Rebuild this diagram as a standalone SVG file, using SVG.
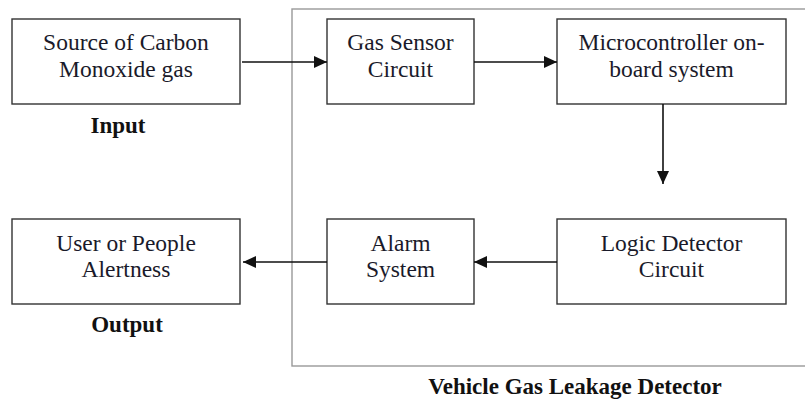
<svg xmlns="http://www.w3.org/2000/svg" width="805" height="403" viewBox="0 0 805 403">
<style>
.box{fill:#fff;stroke:#333;stroke-width:1.4}
.t{font-family:"Liberation Serif","DejaVu Serif","Times New Roman",serif;font-size:23.5px;fill:#1a1a2a;text-anchor:middle}
.b{font-family:"Liberation Serif","DejaVu Serif","Times New Roman",serif;font-size:23px;font-weight:bold;fill:#111;text-anchor:middle}
.c{stroke:#111;stroke-width:1.6;fill:none}
</style>
<defs>
<marker id="ah" markerWidth="13" markerHeight="12" refX="13" refY="6" orient="auto" markerUnits="userSpaceOnUse">
<path d="M0,0 L13,6 L0,12 Z" fill="#111"/>
</marker>
</defs>
<rect id="system" x="292" y="9" width="530" height="357" fill="none" stroke="#999" stroke-width="1.4"/>
<g id="source"><rect class="box" x="12" y="19" width="228" height="85"/><text class="t" x="126" y="50">Source of Carbon</text><text class="t" x="126" y="77">Monoxide gas</text></g>
<g id="sensor"><rect class="box" x="327" y="19" width="147" height="85"/><text class="t" x="400.5" y="50">Gas Sensor</text><text class="t" x="400.5" y="77">Circuit</text></g>
<g id="micro"><rect class="box" x="557" y="19" width="229" height="85"/><text class="t" x="671.5" y="50">Microcontroller on-</text><text class="t" x="671.5" y="77">board system</text></g>
<g id="user"><rect class="box" x="12" y="219" width="228" height="85"/><text class="t" x="126" y="251">User or People</text><text class="t" x="126" y="277">Alertness</text></g>
<g id="alarm"><rect class="box" x="327" y="219" width="147" height="85"/><text class="t" x="400.5" y="251">Alarm</text><text class="t" x="400.5" y="277">System</text></g>
<g id="logic"><rect class="box" x="557" y="219" width="229" height="85"/><text class="t" x="671.5" y="251">Logic Detector</text><text class="t" x="671.5" y="277">Circuit</text></g>
<g id="labels">
<text class="b" x="118" y="133">Input</text>
<text class="b" x="127" y="332">Output</text>
<text class="b" x="575" y="394">Vehicle Gas Leakage Detector</text>
</g>
<g id="connectors">
<line class="c" x1="242" y1="62" x2="327" y2="62" marker-end="url(#ah)"/>
<line class="c" x1="474" y1="62" x2="557" y2="62" marker-end="url(#ah)"/>
<line class="c" x1="663" y1="104" x2="663" y2="184" marker-end="url(#ah)"/>
<line class="c" x1="557" y1="262" x2="474" y2="262" marker-end="url(#ah)"/>
<line class="c" x1="327" y1="262" x2="243" y2="262" marker-end="url(#ah)"/>
</g>
</svg>
